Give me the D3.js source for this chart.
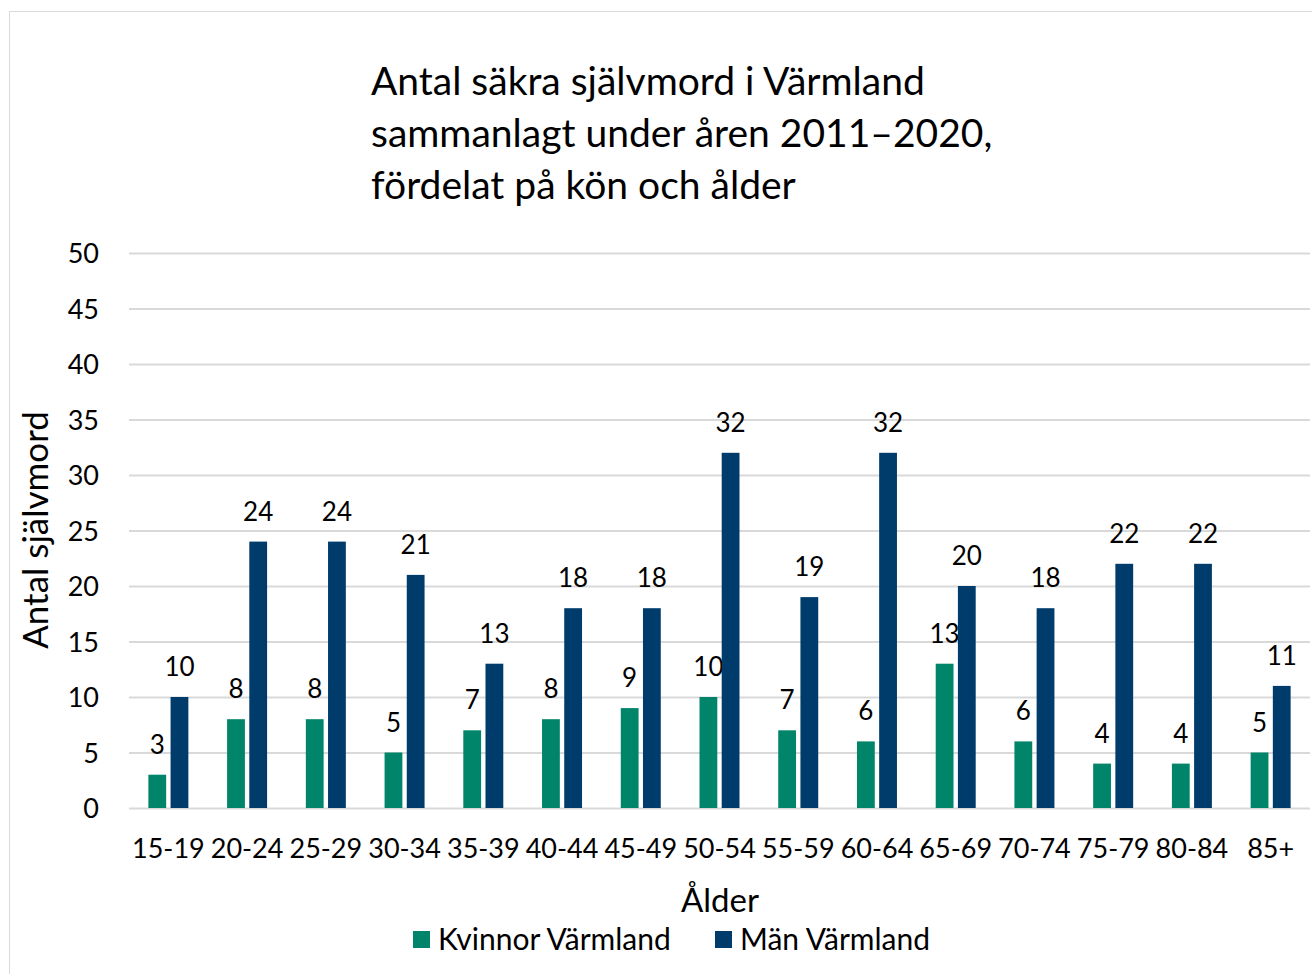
<!DOCTYPE html>
<html>
<head>
<meta charset="utf-8">
<script src="https://cdn.jsdelivr.net/npm/d3@7"></script>
<style>
    body { margin: 0; background: #fff; }
    text { font-family: Lato, "Open Sans", sans-serif; fill: #000; }
</style>
</head>
<body>
<svg id="grafico" width="1312" height="974"></svg>
<script>
var aldersgrupper = ["15-19", "20-24", "25-29", "30-34", "35-39", "40-44", "45-49", "50-54",
    "55-59", "60-64", "65-69", "70-74", "75-79", "80-84", "85+"];
var kvinnor = [3, 8, 8, 5, 7, 8, 9, 10, 7, 6, 13, 6, 4, 4, 5];
var man = [10, 24, 24, 21, 13, 18, 18, 32, 19, 32, 20, 18, 22, 22, 11];
var serieNamn = ["Kvinnor Värmland", "Män Värmland"];
var serieFarger = ["#00856A", "#003C6B"];
var yTicks = [0, 5, 10, 15, 20, 25, 30, 35, 40, 45, 50];
var titelRader = ["Antal säkra självmord i Värmland", "sammanlagt under åren 2011–2020,", "fördelat på kön och ålder"];

var cons = {
    VANSTER: 129, HOGER: 1310, TOPP: 253, BOTTEN: 808,
    GRID: "#d9d9d9"
};

var svg = d3.select("#grafico");

// ram runt diagrammet
svg.append("rect")
    .attr("x", 9.5).attr("y", 11.5)
    .attr("width", 1400).attr("height", 1000)
    .attr("fill", "none")
    .attr("stroke", cons.GRID);

var x = d3.scaleBand()
    .domain(aldersgrupper)
    .range([cons.VANSTER, cons.HOGER])
    .paddingInner(0.492)
    .paddingOuter(0.246);

var xInre = d3.scaleBand()
    .domain([0, 1])
    .range([0, x.bandwidth()])
    .paddingInner(0.198);

var y = d3.scaleLinear()
    .domain([0, 50])
    .range([cons.BOTTEN, cons.TOPP]);

// rutnät
svg.append("g")
    .attr("transform", "translate(" + cons.VANSTER + ",0)")
    .call(d3.axisLeft(y).tickValues(yTicks).tickSize(-(cons.HOGER - cons.VANSTER)).tickFormat(""))
    .call(g => g.select(".domain").remove())
    .call(g => g.selectAll("line").attr("stroke", cons.GRID).attr("stroke-width", 2));

// y-axel etiketter
svg.append("g")
    .attr("transform", "translate(99,0)")
    .call(d3.axisLeft(y).tickValues(yTicks).tickSize(0).tickPadding(0))
    .call(g => g.select(".domain").remove())
    .call(g => g.selectAll("text")
        .attr("font-size", 27)
        .attr("font-family", "Lato")
        .attr("fill", "#000")
        .attr("dy", "0.36em"));

// x-axel etiketter
svg.append("g")
    .attr("transform", "translate(0," + cons.BOTTEN + ")")
    .call(d3.axisBottom(x).tickSize(0).tickPadding(0))
    .call(g => g.select(".domain").remove())
    .call(g => g.selectAll("text")
        .attr("font-size", 27)
        .attr("font-family", "Lato")
        .attr("fill", "#000")
        .attr("dy", 0)
        .attr("y", 50));

var serier = [kvinnor, man];

serier.forEach(function(varden, s) {
    var grupp = svg.append("g");
    grupp.selectAll("rect")
        .data(varden)
        .join("rect")
        .attr("x", (d, i) => x(aldersgrupper[i]) + xInre(s))
        .attr("y", d => y(d))
        .attr("width", xInre.bandwidth())
        .attr("height", d => y(0) - y(d))
        .attr("fill", serieFarger[s]);

    grupp.selectAll("text")
        .data(varden)
        .join("text")
        .attr("x", (d, i) => x(aldersgrupper[i]) + xInre(s) + xInre.bandwidth() / 2)
        .attr("y", d => y(d) - 21)
        .attr("text-anchor", "middle")
        .attr("font-size", 26)
        .text(d => d);
});

// titel
svg.append("g").selectAll("text")
    .data(titelRader)
    .join("text")
    .attr("x", 371)
    .attr("y", (d, i) => 95 + i * 52)
    .attr("font-size", 39)
    .text(d => d);

// axeltitlar
svg.append("text")
    .attr("transform", "translate(48,530) rotate(-90)")
    .attr("text-anchor", "middle")
    .attr("font-size", 35)
    .text("Antal självmord");

svg.append("text")
    .attr("x", 720)
    .attr("y", 912)
    .attr("text-anchor", "middle")
    .attr("font-size", 33)
    .text("Ålder");

// teckenförklaring
var legendX = [413, 715];
var legend = svg.append("g").selectAll("g")
    .data(serieNamn)
    .join("g")
    .attr("transform", (d, i) => "translate(" + legendX[i] + ",0)");

legend.append("rect")
    .attr("x", 0).attr("y", 931)
    .attr("width", 17).attr("height", 17)
    .attr("fill", (d, i) => serieFarger[i]);

legend.append("text")
    .attr("x", 25)
    .attr("y", 950)
    .attr("font-size", 30)
    .text(d => d);
</script>
</body>
</html>
